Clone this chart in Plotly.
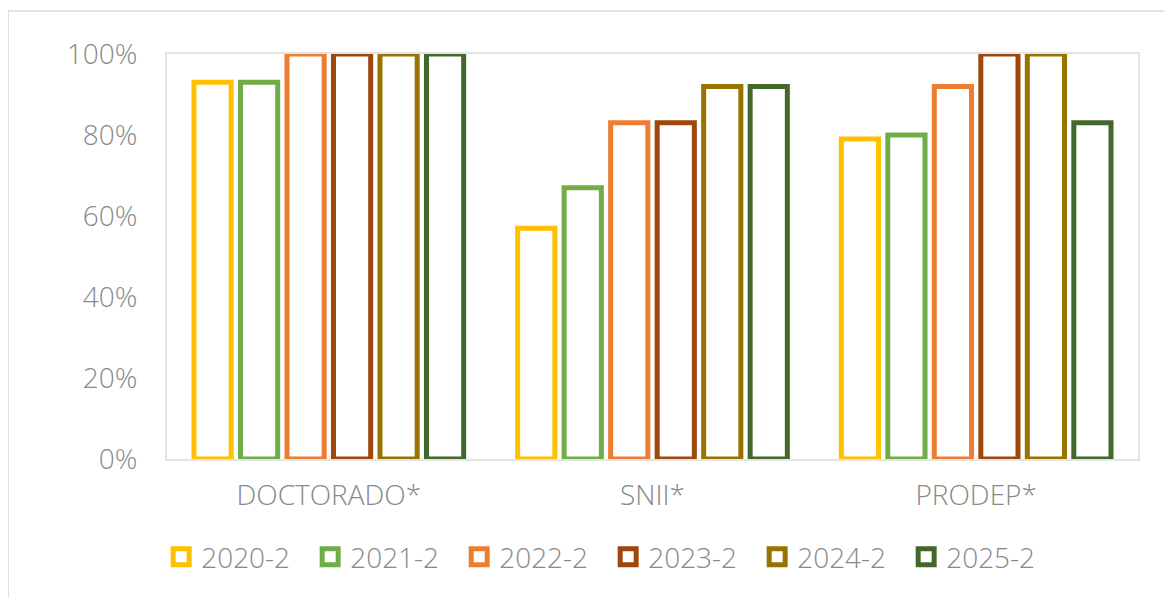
import plotly.graph_objects as go

categories = ["DOCTORADO*", "SNII*", "PRODEP*"]
series_names = ["2020-2", "2021-2", "2022-2", "2023-2", "2024-2", "2025-2"]
v_2020 = [93, 57, 79]
v_2021 = [93, 67, 80]
v_2022 = [100, 83, 92]
v_2023 = [100, 83, 100]
v_2024 = [100, 92, 100]
v_2025 = [100, 92, 83]
colors = ["#FFC000", "#70AD47", "#ED7D31", "#9E480E", "#997300", "#43682B"]
y_ticks = [0, 20, 40, 60, 80, 100]
y_tick_labels = ["0%", "20%", "40%", "60%", "80%", "100%"]

values = [v_2020, v_2021, v_2022, v_2023, v_2024, v_2025]
FONT = "Open Sans"
GRAY = "#898989"

def fnt(size=28):
    return dict(family=FONT, size=size, color=GRAY, weight=300)

fig = go.Figure()
for name, vals, col in zip(series_names, values, colors):
    fig.add_trace(go.Bar(
        x=categories, y=vals, name=name, legendgroup=name, showlegend=False,
        marker=dict(color="white", line=dict(color=col, width=5)),
        cliponaxis=False,
    ))
    fig.add_trace(go.Scatter(
        x=[None], y=[None], mode="markers", name=name, legendgroup=name,
        marker=dict(symbol="square-open", size=20, color=col, line=dict(color=col, width=5)),
        showlegend=True,
    ))

fig.update_layout(
    width=1172, height=598,
    margin=dict(l=159, r=42, t=46, b=147, autoexpand=False),
    paper_bgcolor="white", plot_bgcolor="white",
    barmode="group", bargap=0.138, bargroupgap=0.2,
    font=fnt(),
    showlegend=True,
    legend=dict(orientation="h", x=-0.006, xanchor="left", y=-0.242, yanchor="middle",
                font=fnt(), entrywidth=104, itemsizing="trace", bgcolor="rgba(0,0,0,0)"),
    xaxis=dict(showline=True, mirror=True, linecolor="#E4E4E4", linewidth=2,
               showgrid=False, ticks="", ticklabelstandoff=10, layer="below traces",
               tickfont=fnt()),
    yaxis=dict(range=[0, 100], tickvals=y_ticks, ticktext=y_tick_labels, showline=True, mirror=True,
               linecolor="#E4E4E4", linewidth=2, showgrid=False, zeroline=False, ticks="",
               ticklabelstandoff=22, layer="below traces",
               tickfont=fnt()),
    shapes=[dict(type="rect", xref="paper", yref="paper", x0=-0.1637, x1=1.3, y0=-0.6, y1=1.106,
                 line=dict(color="#D9D9D9", width=1.5), fillcolor="rgba(0,0,0,0)", layer="below")],
)

fig.write_html("out.html")
